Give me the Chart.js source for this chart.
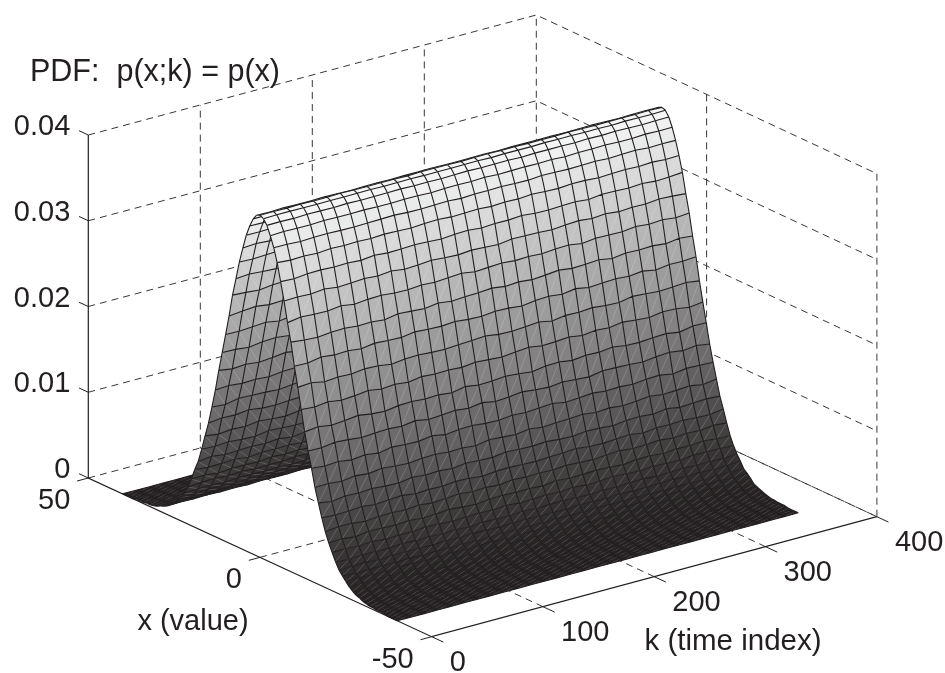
<!DOCTYPE html>
<html>
<head>
<meta charset="utf-8">
<title>PDF surface</title>
<script src="https://cdn.jsdelivr.net/npm/chart.js@4"></script>
<style>
  html, body { margin: 0; padding: 0; background: #fff; }
  canvas { display: block; }
</style>
</head>
<body>
<canvas id="chart" width="945" height="673"></canvas>
<script>
// axis ticks
var zTicks = [0, 0.01, 0.02, 0.03, 0.04];
var zLabels = ["0", "0.01", "0.02", "0.03", "0.04"];
var xTicks = [-50, 0, 50];
var xLabels = ["-50", "0", "50"];
var kTicks = [0, 100, 200, 300, 400];
var kLabels = ["0", "100", "200", "300", "400"];

// mesh of the surface
var xGrid = [-40,-39,-38,-37,-36,-35,-34,-33,-32,-31,-30,-29,-28,-27,-26,-25,-24,-23,-22,-21,
  -20,-19,-18,-17,-16,-15,-14,-13,-12,-11,-10,-9,-8,-7,-6,-5,-4,-3,-2,-1,
  0,1,2,3,4,5,6,7,8,9,10,11,12,13,14,15,16,17,18,19,
  20,21,22,23,24,25,26,27,28,29,30,31,32,33,34,35,36,37,38,39,40];
var kGrid = [0,12,24,36,48,60,72,84,96,108,120,132,144,156,168,180,192,204,216,228,240,252,264,276,288,300,312,324,336,348,360];

var pdfValues = [0,0,0,0,0.0001,0.0001,0.0001,0.0002,0.0002,0.0003,0.0004,0.0006,0.0008,0.0010,0.0014,0.0018,0.0022,0.0028,0.0035,0.0044,
  0.0054,0.0066,0.0079,0.0094,0.0111,0.0130,0.0150,0.0171,0.0194,0.0218,0.0242,0.0266,0.0290,0.0312,0.0333,0.0352,0.0368,0.0381,0.0391,0.0397,
  0.0399,0.0397,0.0391,0.0381,0.0368,0.0352,0.0333,0.0312,0.0290,0.0266,0.0242,0.0218,0.0194,0.0171,0.0150,0.0130,0.0111,0.0094,0.0079,0.0066,
  0.0054,0.0044,0.0035,0.0028,0.0022,0.0018,0.0014,0.0010,0.0008,0.0006,0.0004,0.0003,0.0002,0.0002,0.0001,0.0001,0.0001,0,0,0,0];

// estimated wobble of the mesh along k, in units of 0.0001
var wobble = [
  [1,-1,2,0,-2,1,3,-1,0,2,-2,1,-1,3,0,-2,2,1,-3,0,1,-1,2,-2,0,3,-1,1,-2,2,0],
  [-2,0,1,3,-1,-2,0,2,-3,1,0,2,-1,-2,3,1,-1,0,2,-2,1,3,-2,0,-1,2,1,-3,0,1,-1],
  [0,2,-1,-2,1,0,-3,1,2,-1,3,-2,0,1,-1,2,-3,1,0,2,-1,-2,3,0,1,-2,2,0,-1,3,1],
  [2,-2,0,1,3,-1,1,-2,0,3,-1,0,2,-3,1,0,1,-2,2,-1,3,0,-2,1,2,-1,0,-3,2,0,-2],
  [-1,1,3,-2,0,2,-1,0,-2,1,2,-3,1,0,-1,3,0,2,-2,1,-3,2,0,-1,3,-2,1,2,-1,-2,1],
  [3,0,-2,1,-1,-3,2,1,0,-2,1,3,-1,2,-2,0,-1,3,1,-2,0,1,-1,3,-2,0,2,-1,3,-2,0],
  [0,-3,1,2,-2,1,0,3,-1,-2,0,1,-3,2,1,-1,2,-2,0,3,-1,-3,1,2,0,1,-2,3,-1,0,2]
];

// position of the 3d box on the page
var origin = { x: 431.7, y: 636.7 };
var perX = { x: -3.434, y: -1.587 };
var perK = { x: 1.113, y: -0.3 };
var skew = 0.00007;   // the far wall is a little wider than the near edge
var perZ = -8575;

function project(x, k, z) {
  var dx = x + 50;
  return {
    x: origin.x + dx * perX.x + k * perK.x + dx * k * skew,
    y: origin.y + dx * perX.y + k * perK.y + z * perZ
  };
}

function gap() { return { x: NaN, y: NaN }; }

function lineSet(points, color, width, dash) {
  return {
    data: points, showLine: true, pointRadius: 0, fill: false,
    borderColor: color, borderWidth: width, borderDash: dash || []
  };
}

var gridColor = "#3a3738";
var inkColor = "#231f20";
var dash = [7, 5];
var sets = [];  // back to front
var zMax = zTicks[zTicks.length - 1];

// dashed walls and floor
zTicks.forEach(function (z) {
  sets.push(lineSet([project(50, 0, z), project(50, 400, z), project(-50, 400, z)], gridColor, 1, dash));
});
kTicks.slice(1).forEach(function (k) {
  sets.push(lineSet([project(-50, k, 0), project(50, k, 0), project(50, k, zMax)], gridColor, 1, dash));
});
xTicks.slice(0, 2).forEach(function (x) {
  sets.push(lineSet([project(x, 400, 0), project(x, 400, zMax)], gridColor, 1, dash));
});
sets.push(lineSet([project(0, 0, 0), project(0, 400, 0)], gridColor, 1, dash));

// solid axes and ticks
sets.push(lineSet([project(50, 0, zMax), project(50, 0, 0), project(-50, 0, 0), project(-50, 400, 0)], inkColor, 1.2));
zTicks.forEach(function (z) {
  sets.push(lineSet([project(50, 0, z), project(52.7, 0, z)], inkColor, 1));
});
xTicks.forEach(function (x) {
  sets.push(lineSet([project(x, 0, 0), project(x, -10, 0)], inkColor, 1));
});
kTicks.forEach(function (k) {
  sets.push(lineSet([project(-50, k, 0), project(-53.4, k, 0)], inkColor, 1));
});

function height(i, j) {
  var p = pdfValues[i];
  var t = p / zMax;
  var row = wobble[i % wobble.length];
  var w = row[(j + 5 * Math.floor(i / wobble.length)) % row.length];
  // the ridge itself stays almost straight in the picture
  return Math.max(0, p + w * 0.0001 * Math.sqrt(t) * (1.1 - t * t));
}

function surfacePoint(i, j) {
  return project(xGrid[i], kGrid[j], height(i, j));
}

function shade(z) {
  var t = Math.min(1, z / zMax);
  var r = Math.round(35 + 212 * t), g = Math.round(31 + 217 * t), b = Math.round(32 + 216 * t);
  return "rgb(" + r + "," + g + "," + b + ")";
}

// strips of the surface, from the far side to the near side
for (var i = xGrid.length - 1; i > 0; i--) {
  var front = i - 1;
  var outline = [], seams = [], mesh = [];
  var j;
  for (j = 0; j < kGrid.length; j++) outline.push(surfacePoint(i, j));
  for (j = kGrid.length - 1; j >= 0; j--) outline.push(surfacePoint(front, j));

  sets.push({
    data: outline, showLine: true, pointRadius: 0, borderWidth: 0,
    borderColor: "transparent", fill: "shape",
    backgroundColor: shade((pdfValues[i] + pdfValues[front]) / 2)
  });

  for (j = 0; j < kGrid.length - 1; j++) {
    seams.push(surfacePoint(front, j), surfacePoint(i, j + 1), gap());
  }
  sets.push(lineSet(seams, "rgba(255,255,255,0.28)", 0.6));

  for (j = 0; j < kGrid.length; j++) mesh.push(surfacePoint(i, j));
  mesh.push(gap());
  for (j = 0; j < kGrid.length; j++) {
    mesh.push(surfacePoint(i, j), surfacePoint(front, j), gap());
  }
  if (front === 0) {
    for (j = 0; j < kGrid.length; j++) mesh.push(surfacePoint(front, j));
  }
  sets.push(lineSet(mesh, inkColor, 1.1));
}

// index 0 is painted last
sets.reverse();

var labelPlugin = {
  id: "boxLabels",
  afterDatasetsDraw: function (chart) {
    var ctx = chart.ctx, sx = chart.scales.x, sy = chart.scales.y;
    function put(text, p, dx, dy, align) {
      ctx.textAlign = align;
      ctx.fillText(text, sx.getPixelForValue(p.x) + dx, sy.getPixelForValue(p.y) + dy);
    }
    ctx.save();
    ctx.fillStyle = inkColor;
    ctx.font = "29px 'Liberation Sans'";
    ctx.textBaseline = "middle";
    zTicks.forEach(function (z, n) { put(zLabels[n], project(50, 0, z), -18, -8, "right"); });
    xTicks.forEach(function (x, n) { put(xLabels[n], project(x, 0, 0), -18, 23, "right"); });
    kTicks.forEach(function (k, n) { put(kLabels[n], project(-50, k, 0), 18, 26, "left"); });
    ctx.textAlign = "center";
    ctx.fillText("x (value)", 193, 622);
    ctx.font = "29.5px 'Liberation Sans'";
    ctx.fillText("k (time index)", 733, 642);
    ctx.textAlign = "left";
    ctx.font = "30.5px 'Liberation Sans'";
    ctx.fillText("PDF:  p(x;k) = p(x)", 30, 73);
    ctx.restore();
  }
};

var ctx = document.getElementById("chart").getContext("2d");
var chart = new Chart(ctx, {
  type: "scatter",
  data: { datasets: sets },
  plugins: [labelPlugin],
  options: {
    responsive: false,
    animation: false,
    events: [],
    layout: { padding: 0 },
    plugins: { legend: { display: false }, tooltip: { enabled: false }, title: { display: false } },
    scales: {
      x: { type: "linear", min: 0, max: 945, display: false },
      y: { type: "linear", min: 0, max: 673, reverse: true, display: false }
    }
  }
});
</script>
</body>
</html>
